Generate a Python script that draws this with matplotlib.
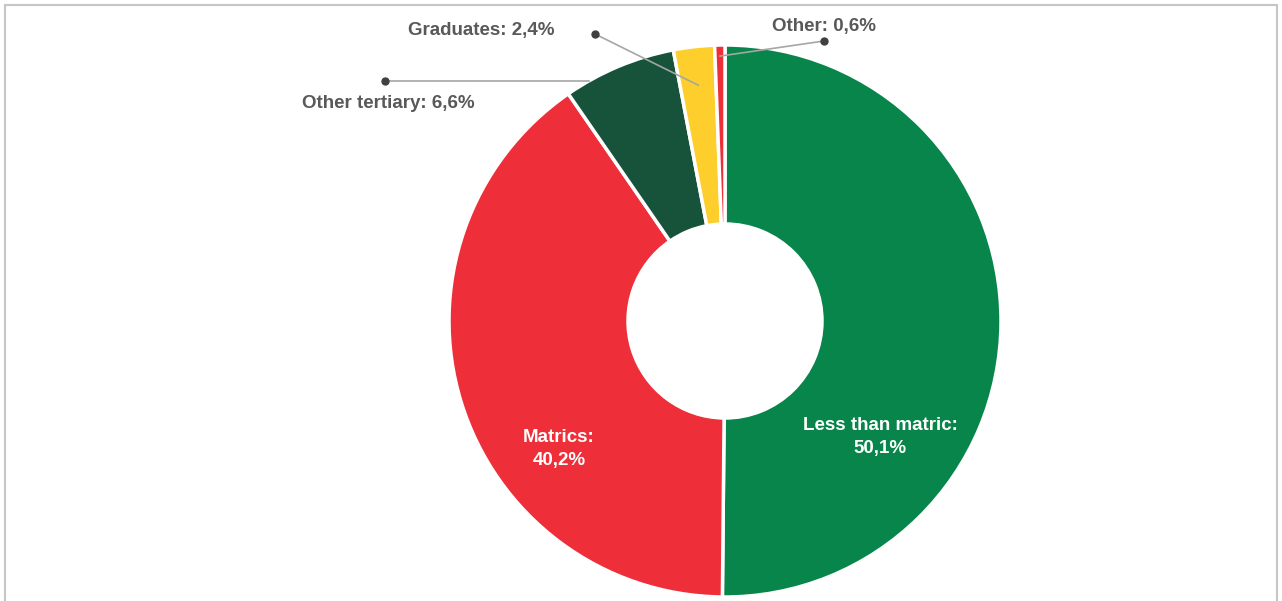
import numpy as np
import matplotlib.pyplot as plt
from matplotlib.patches import Rectangle

plt.rcParams['font.family'] = ['Liberation Sans', 'DejaVu Sans']

categories = ['Less than matric', 'Matrics', 'Other tertiary', 'Graduates', 'Other']
shares = [50.1, 40.2, 6.6, 2.4, 0.6]
colours = ['#07854a', '#ee2e38', '#17523a', '#fdce2c', '#ee2e38']

W, H = 1282, 601
cx, cy = 725, 280
R = 276
hole = 97

fig = plt.figure(figsize=(W / 100, H / 100), dpi=100)
ax = fig.add_axes([0, 0, 1, 1])

wedges, _ = ax.pie(shares, colors=colours, startangle=90, counterclock=False,
                   center=(cx, cy), radius=R,
                   wedgeprops=dict(width=R - hole, edgecolor='white', linewidth=2.5))

ax.set_xlim(0, W)
ax.set_ylim(0, H)
ax.set_aspect('equal')
ax.axis('off')

# thin grey frame around the chart area
ax.add_patch(Rectangle((5, -10), W - 10, H - 5 + 10, fill=False,
                       edgecolor='#c6c6c6', linewidth=1.5, clip_on=False))

def fmt(v):
    return f'{v:.1f}'.replace('.', ',') + '%'

def mid_point(w, frac):
    a = np.deg2rad((w.theta1 + w.theta2) / 2)
    return cx + R * frac * np.cos(a), cy + R * frac * np.sin(a)

grey = '#595959'
fs = 13.5

# labels inside the two big slices
ax.text(880, 601 - 437, f'{categories[0]}:\n{fmt(shares[0])}', ha='center', va='center',
        color='white', fontsize=fs, fontweight='bold', linespacing=1.4)
ax.text(559, 601 - 449, f'{categories[1]}:\n{fmt(shares[1])}', ha='center', va='center',
        color='white', fontsize=fs, fontweight='bold', linespacing=1.4)

# outside labels with leader lines
outside = [
    (2, (388, 601 - 103), (385, 601 - 81), 0.99),
    (3, (481, 601 - 30), (595, 601 - 34), 0.86),
    (4, (824, 601 - 26), (824, 601 - 41), 0.96),
]
for i, txt_xy, dot_xy, frac in outside:
    ax.text(*txt_xy, f'{categories[i]}: {fmt(shares[i])}', ha='center', va='center',
            color=grey, fontsize=fs, fontweight='bold')
    if i == 2:
        # straight across to where the dot's height meets the outer rim
        dy = dot_xy[1] - cy
        px, py = cx - np.sqrt(R ** 2 - dy ** 2), dot_xy[1]
    else:
        px, py = mid_point(wedges[i], frac)
    ax.plot([dot_xy[0], px], [dot_xy[1], py], color='#a6a6a6', lw=1.2)
    ax.plot(*dot_xy, 'o', color='#404040', ms=5)

fig.savefig('out.png', dpi=100)
